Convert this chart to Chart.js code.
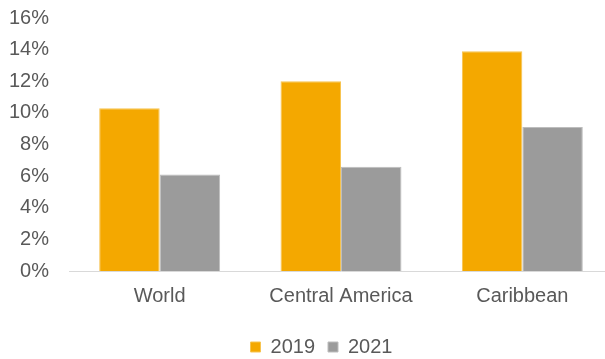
<!DOCTYPE html>
<html>
<head>
<meta charset="utf-8">
<script src="https://cdn.jsdelivr.net/npm/chart.js@4/dist/chart.umd.min.js"></script>
<style>
  html, body { margin: 0; padding: 0; background: #fff; overflow: hidden; }
  #wrap { position: relative; width: 642px; height: 359px; }
</style>
</head>
<body>
<div id="wrap"><canvas id="chart"></canvas></div>
<script>
const regions = ['World', 'Central America', 'Caribbean'];
const share2019 = [10.3, 12.0, 13.9];
const share2021 = [6.1, 6.6, 9.1];
const yTicks = [0, 2, 4, 6, 8, 10, 12, 14, 16];

const textColor = '#595959';
const font = { family: '"Liberation Sans", Arial, sans-serif', size: 20 };

// centre the legend on the whole canvas rather than on the padded area
const legendShift = {
    id: 'legendShift',
    afterLayout(chart) {
        chart.legend.left += 15;
        chart.legend.right += 15;
    }
};

new Chart(document.getElementById('chart'), {
    type: 'bar',
    data: {
        labels: regions,
        datasets: [
            {
                label: '2019',
                data: share2019,
                backgroundColor: '#F4A800',
                borderColor: '#F7C451',
                borderWidth: 1,
                categoryPercentage: 0.667,
                barPercentage: 1.0
            },
            {
                label: '2021',
                data: share2021,
                backgroundColor: '#9B9B9B',
                borderColor: '#BDBDBD',
                borderWidth: 1,
                categoryPercentage: 0.667,
                barPercentage: 1.0
            }
        ]
    },
    options: {
        responsive: true,
        maintainAspectRatio: false,
        animation: false,
        layout: {
            padding: { top: 0, right: 29, bottom: -8, left: 0 }
        },
        scales: {
            x: {
                grid: { display: false, drawTicks: false },
                border: { display: true, color: '#D9D9D9', width: 1 },
                ticks: { color: textColor, font: font, padding: 13 },
                afterFit: axis => { axis.height = 53; }
            },
            y: {
                min: 0,
                max: 16,
                grid: { display: false, drawTicks: false },
                border: { display: false },
                afterBuildTicks: axis => { axis.ticks = yTicks.map(v => ({ value: v })); },
                afterFit: axis => {
                    axis.width = 69;
                    axis.paddingTop = 18;
                },
                ticks: {
                    color: textColor,
                    font: font,
                    padding: 20,
                    callback: v => v + '%'
                }
            }
        },
        plugins: {
            legend: {
                position: 'bottom',
                labels: {
                    color: textColor,
                    font: font,
                    boxWidth: 10,
                    boxHeight: 10,
                    padding: 13
                }
            },
            tooltip: { enabled: false }
        }
    },
    plugins: [legendShift]
});
</script>
</body>
</html>
